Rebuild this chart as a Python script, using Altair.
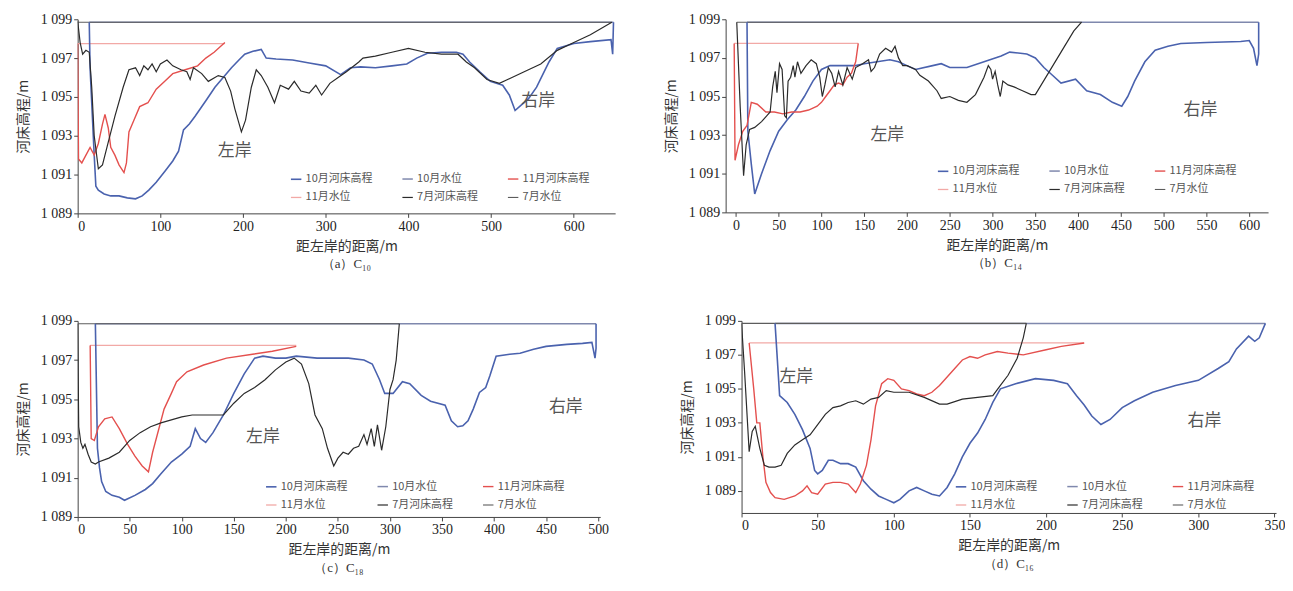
import altair as alt
import pandas as pd

SERIES = ["10月河床高程", "10月水位", "11月河床高程", "11月水位", "7月河床高程", "7月水位"]
COLORS = ["#4a62ae", "#7f88ad", "#e4504e", "#f2a9a6", "#2b2b2b", "#5c5c5c"]
WIDTHS = [1.6, 1.1, 1.3, 1.0, 1.3, 1.1]
Y_TICKS = [1089, 1091, 1093, 1095, 1097, 1099]
CJK = "Noto Sans CJK SC"
NUM = "Liberation Serif"

# ---------------- panel (a) ----------------
A_OCT = [(14, 1098.85), (15, 1096.5), (20, 1092.0), (22, 1090.4), (25, 1090.2), (32, 1090.0), (40, 1089.9),
         (50, 1089.9), (60, 1089.8), (70, 1089.75), (78, 1089.9), (86, 1090.2), (95, 1090.6), (106, 1091.2),
         (115, 1091.7), (122, 1092.2), (128, 1093.3), (135, 1093.6), (142, 1094.0), (155, 1094.8),
         (166, 1095.5), (176, 1096.0), (186, 1096.5), (195, 1096.9), (202, 1097.2), (212, 1097.35),
         (222, 1097.45), (228, 1097.0), (240, 1096.95), (260, 1096.9), (280, 1096.75), (300, 1096.6),
         (318, 1096.15), (330, 1096.5), (342, 1096.55), (360, 1096.5), (380, 1096.6), (398, 1096.7),
         (410, 1097.0), (423, 1097.25), (440, 1097.3), (458, 1097.3), (466, 1097.2), (474, 1096.8),
         (486, 1096.3), (499, 1095.8), (514, 1095.6), (522, 1095.1), (529, 1094.3), (537, 1094.6),
         (545, 1094.9), (555, 1095.5), (563, 1096.2), (570, 1096.8), (580, 1097.5), (600, 1097.75),
         (620, 1097.85), (645, 1097.95), (647, 1097.2), (648, 1098.85)]
A_JUL = [(0, 1098.9), (3, 1097.8), (6, 1097.2), (10, 1097.4), (14, 1097.3), (17, 1095.5), (20, 1093.0),
         (25, 1091.3), (30, 1091.5), (36, 1092.5), (45, 1094.0), (55, 1095.5), (62, 1096.4), (70, 1096.5),
         (75, 1096.1), (80, 1096.6), (85, 1096.4), (90, 1096.7), (95, 1096.3), (100, 1096.7), (108, 1096.9),
         (115, 1096.6), (125, 1096.4), (132, 1096.3), (136, 1095.9), (140, 1096.5), (150, 1096.2),
         (158, 1095.8), (170, 1096.1), (178, 1096.0), (185, 1095.3), (190, 1094.4), (198, 1093.2),
         (203, 1093.8), (210, 1095.5), (216, 1096.4), (222, 1096.1), (230, 1095.5), (238, 1094.7),
         (245, 1095.6), (255, 1095.4), (262, 1095.8), (270, 1095.3), (280, 1095.2), (288, 1095.6),
         (295, 1095.1), (305, 1095.7), (315, 1096.0), (325, 1096.3), (340, 1096.8), (345, 1097.0),
         (360, 1097.1), (380, 1097.3), (400, 1097.5), (420, 1097.3), (440, 1097.2), (460, 1097.2),
         (470, 1096.8), (480, 1096.5), (495, 1095.9), (510, 1095.7), (520, 1095.9), (540, 1096.3),
         (560, 1096.7), (580, 1097.4), (600, 1097.8), (620, 1098.2), (646, 1098.85)]
A_NOV = [(0, 1097.75), (1, 1091.8), (5, 1091.6), (10, 1092.0), (15, 1092.4), (20, 1092.0), (25, 1092.6),
         (30, 1093.6), (33, 1094.1), (37, 1093.4), (40, 1092.4), (45, 1092.0), (50, 1091.5), (56, 1091.1),
         (59, 1091.6), (62, 1093.2), (68, 1093.8), (75, 1094.5), (85, 1094.7), (95, 1095.4), (105, 1095.8),
         (115, 1096.2), (130, 1096.4), (145, 1096.6), (155, 1097.0), (165, 1097.3), (178, 1097.8)]
A_WL_OCT = [(14, 1098.85), (648, 1098.85)]
A_WL_NOV = [(0, 1097.75), (178, 1097.75)]
A_WL_JUL = [(0, 1098.85), (646, 1098.85)]
A_BANKS = [("左岸", 190, 1092.2), ("右岸", 557, 1094.8)]

# ---------------- panel (b) ----------------
B_OCT = [(13, 1098.85), (14, 1093.2), (18, 1091.5), (22, 1089.95), (30, 1091.0), (40, 1092.2), (50, 1093.2),
         (60, 1093.8), (70, 1094.3), (80, 1095.0), (90, 1095.8), (100, 1096.4), (110, 1096.6), (120, 1096.6),
         (140, 1096.6), (150, 1096.7), (165, 1096.8), (180, 1096.9), (190, 1096.8), (200, 1096.6),
         (210, 1096.4), (230, 1096.6), (240, 1096.7), (250, 1096.5), (270, 1096.5), (290, 1096.8),
         (310, 1097.1), (320, 1097.3), (340, 1097.2), (350, 1097.0), (360, 1096.5), (370, 1096.1),
         (380, 1095.7), (397, 1095.9), (410, 1095.3), (426, 1095.1), (440, 1094.7), (451, 1094.5),
         (458, 1095.0), (466, 1095.8), (478, 1096.8), (490, 1097.4), (505, 1097.6), (520, 1097.75),
         (550, 1097.8), (590, 1097.85), (600, 1097.9), (605, 1097.5), (609, 1096.6), (611, 1097.2),
         (611, 1098.85)]
B_JUL = [(1, 1098.85), (5, 1094.5), (9, 1090.9), (12, 1092.5), (16, 1093.3), (22, 1093.4), (30, 1093.7),
         (36, 1094.0), (40, 1094.2), (43, 1095.5), (46, 1096.3), (48, 1095.2), (51, 1096.7), (54, 1096.4),
         (57, 1094.0), (59, 1093.9), (61, 1095.8), (64, 1096.0), (67, 1096.6), (69, 1096.0), (72, 1096.8),
         (76, 1096.2), (82, 1096.6), (88, 1096.9), (94, 1096.7), (98, 1096.0), (101, 1095.0), (104, 1095.6),
         (108, 1096.5), (112, 1096.2), (116, 1095.5), (120, 1096.3), (125, 1095.6), (130, 1096.5),
         (136, 1095.9), (140, 1096.5), (148, 1096.7), (155, 1096.9), (158, 1096.3), (162, 1096.5),
         (168, 1097.2), (175, 1097.5), (182, 1097.3), (186, 1097.6), (190, 1097.0), (195, 1096.6),
         (200, 1096.6), (210, 1096.4), (215, 1096.1), (225, 1095.8), (235, 1095.3), (240, 1094.9),
         (250, 1095.0), (260, 1094.8), (270, 1094.7), (280, 1095.1), (290, 1096.0), (295, 1096.6),
         (298, 1096.4), (300, 1095.9), (303, 1096.3), (306, 1095.6), (309, 1095.0), (312, 1095.8),
         (318, 1095.6), (325, 1095.5), (335, 1095.3), (345, 1095.1), (350, 1095.1), (365, 1096.2),
         (380, 1097.3), (395, 1098.4), (404, 1098.85)]
B_NOV = [(-2, 1097.75), (-1, 1091.7), (3, 1092.5), (8, 1093.2), (13, 1093.5), (18, 1094.7), (25, 1094.6),
         (35, 1094.2), (45, 1094.2), (55, 1094.1), (65, 1094.2), (75, 1094.2), (85, 1094.3), (95, 1094.5),
         (100, 1094.7), (105, 1095.0), (110, 1095.3), (115, 1095.6), (120, 1095.7), (125, 1095.6),
         (130, 1096.0), (135, 1096.2), (140, 1096.8), (143, 1097.75)]
B_WL_OCT = [(13, 1098.85), (611, 1098.85)]
B_WL_NOV = [(-2, 1097.75), (143, 1097.75)]
B_WL_JUL = [(1, 1098.85), (404, 1098.85)]
B_BANKS = [("左岸", 177, 1093.0), ("右岸", 543, 1094.3)]

# ---------------- panel (c) ----------------
C_OCT = [(17, 1098.85), (19, 1092.5), (21, 1091.5), (23, 1090.8), (27, 1090.3), (33, 1090.1), (40, 1090.0),
         (45, 1089.85), (55, 1090.1), (65, 1090.4), (72, 1090.7), (80, 1091.2), (90, 1091.8), (100, 1092.2),
         (108, 1092.6), (113, 1093.5), (118, 1093.0), (123, 1092.8), (130, 1093.3), (140, 1094.2),
         (150, 1095.3), (160, 1096.3), (170, 1097.1), (178, 1097.2), (190, 1097.1), (200, 1097.1),
         (210, 1097.2), (230, 1097.1), (260, 1097.1), (275, 1097.0), (283, 1096.8), (290, 1096.0),
         (295, 1095.3), (303, 1095.3), (312, 1095.9), (319, 1095.8), (330, 1095.2), (339, 1094.9),
         (353, 1094.7), (359, 1093.9), (365, 1093.6), (370, 1093.65), (375, 1093.9), (380, 1094.5),
         (386, 1095.35), (392, 1095.6), (396, 1096.2), (402, 1097.2), (415, 1097.3), (425, 1097.35),
         (438, 1097.55), (450, 1097.7), (470, 1097.8), (485, 1097.85), (494, 1097.9), (497, 1097.1),
         (498, 1097.6), (498, 1098.85)]
C_JUL = [(0, 1098.85), (1, 1093.6), (3, 1092.8), (5, 1092.5), (7, 1092.7), (10, 1092.2), (13, 1091.8),
         (17, 1091.7), (20, 1091.8), (30, 1092.0), (40, 1092.3), (50, 1092.9), (60, 1093.3), (70, 1093.6),
         (80, 1093.8), (90, 1093.95), (100, 1094.1), (110, 1094.2), (125, 1094.2), (140, 1094.2),
         (150, 1094.8), (160, 1095.3), (170, 1095.6), (180, 1096.0), (190, 1096.5), (200, 1096.9),
         (208, 1097.1), (215, 1096.8), (222, 1095.8), (228, 1094.2), (235, 1093.5), (240, 1092.5),
         (246, 1091.6), (250, 1092.0), (255, 1092.3), (260, 1092.2), (265, 1092.5), (270, 1092.6),
         (275, 1093.2), (278, 1092.7), (282, 1093.5), (285, 1092.6), (288, 1093.7), (292, 1092.4),
         (296, 1093.6), (300, 1095.5), (303, 1096.0), (306, 1097.0), (309, 1098.85)]
C_NOV = [(12, 1097.75), (13, 1093.0), (16, 1092.9), (20, 1093.6), (26, 1094.0), (33, 1094.1), (40, 1093.5),
         (48, 1092.7), (55, 1092.1), (62, 1091.6), (68, 1091.3), (72, 1092.3), (78, 1093.5), (83, 1094.5),
         (90, 1095.3), (95, 1095.9), (105, 1096.4), (121, 1096.75), (143, 1097.1), (168, 1097.3),
         (187, 1097.45), (210, 1097.7)]
C_WL_OCT = [(17, 1098.85), (498, 1098.85)]
C_WL_NOV = [(12, 1097.75), (210, 1097.75)]
C_WL_JUL = [(0, 1098.85), (309, 1098.85)]
C_BANKS = [("左岸", 178, 1093.1), ("右岸", 469, 1094.6)]

# ---------------- panel (d) ----------------
D_OCT = [(22, 1098.85), (25, 1094.6), (30, 1094.2), (35, 1093.5), (40, 1092.6), (45, 1091.5), (48, 1090.2),
         (50, 1090.0), (53, 1090.2), (57, 1090.8), (60, 1090.8), (65, 1090.6), (70, 1090.6), (75, 1090.4),
         (80, 1089.6), (85, 1089.1), (90, 1088.7), (95, 1088.5), (100, 1088.3), (104, 1088.5), (110, 1089.0),
         (115, 1089.2), (120, 1089.0), (125, 1088.8), (130, 1088.7), (135, 1089.2), (140, 1090.0),
         (145, 1091.0), (150, 1091.8), (155, 1092.4), (160, 1093.2), (165, 1094.2), (170, 1095.0),
         (180, 1095.3), (193, 1095.6), (205, 1095.5), (214, 1095.3), (220, 1094.6), (225, 1094.05),
         (230, 1093.4), (236, 1092.9), (242, 1093.2), (250, 1093.9), (258, 1094.3), (270, 1094.8),
         (285, 1095.2), (300, 1095.5), (313, 1096.2), (320, 1096.6), (325, 1097.35), (333, 1098.1),
         (337, 1097.8), (340, 1098.0), (344, 1098.85)]
D_JUL = [(0, 1098.85), (2, 1096.0), (5, 1091.3), (7, 1092.5), (9, 1092.8), (12, 1091.5), (15, 1090.5),
         (18, 1090.4), (22, 1090.4), (26, 1090.5), (30, 1091.2), (35, 1091.7), (40, 1092.0), (45, 1092.3),
         (50, 1092.9), (55, 1093.5), (60, 1093.9), (65, 1094.0), (70, 1094.2), (75, 1094.3), (80, 1094.1),
         (85, 1094.4), (90, 1094.5), (95, 1094.9), (100, 1094.8), (110, 1094.8), (120, 1094.5),
         (130, 1094.1), (135, 1094.1), (145, 1094.4), (155, 1094.5), (165, 1094.6), (170, 1095.2),
         (175, 1095.8), (181, 1096.8), (185, 1098.0), (187, 1098.85)]
D_NOV = [(5, 1097.7), (8, 1095.0), (10, 1093.0), (12, 1093.0), (14, 1091.0), (16, 1089.5), (19, 1088.9),
         (22, 1088.6), (28, 1088.5), (35, 1088.7), (40, 1089.0), (43, 1089.3), (46, 1088.9), (50, 1088.8),
         (55, 1089.4), (60, 1089.5), (65, 1089.5), (70, 1089.4), (75, 1088.9), (78, 1089.4), (82, 1090.5),
         (85, 1092.0), (88, 1094.0), (92, 1095.3), (96, 1095.6), (100, 1095.5), (105, 1095.0), (110, 1094.9),
         (115, 1094.7), (120, 1094.6), (125, 1094.8), (130, 1095.2), (135, 1095.7), (140, 1096.2),
         (145, 1096.7), (150, 1096.9), (155, 1096.8), (160, 1097.0), (168, 1097.2), (175, 1097.1),
         (185, 1097.0), (200, 1097.3), (210, 1097.5), (225, 1097.7)]
D_WL_OCT = [(22, 1098.85), (344, 1098.85)]
D_WL_NOV = [(5, 1097.7), (225, 1097.7)]
D_WL_JUL = [(0, 1098.85), (187, 1098.85)]
D_BANKS = [("左岸", 36, 1095.7), ("右岸", 304, 1093.1)]

Y_LABEL = "'1 ' + slice(toString(datum.value), 1)"


def panel(series_map, banks, xdom, xticks, ydom, width, height, title, lx, ly):
    rows = []
    for name in ["10月水位", "7月水位", "11月水位", "10月河床高程", "11月河床高程", "7月河床高程"]:
        for i, (d, e) in enumerate(series_map[name]):
            rows.append({"series": name, "d": d, "e": e, "i": i})
    df = pd.DataFrame(rows)
    bank_df = pd.DataFrame([{"t": t, "d": d, "e": e} for t, d, e in banks])

    x = alt.X("d:Q", scale=alt.Scale(domain=xdom, nice=False, zero=False),
              axis=alt.Axis(values=xticks, tickCount=len(xticks) + 5, title="距左岸的距离/m",
                            format="d", labelOverlap=False))
    y = alt.Y("e:Q", scale=alt.Scale(domain=ydom, nice=False, zero=False),
              axis=alt.Axis(values=Y_TICKS, tickCount=len(Y_TICKS) + 5, labelExpr=Y_LABEL,
                            title="河床高程/m", labelOverlap=False, labelBound=False, labelFlush=False))

    lines = alt.Chart(df).mark_line(clip=True).encode(
        x=x, y=y,
        color=alt.Color("series:N", scale=alt.Scale(domain=SERIES, range=COLORS),
                        legend=alt.Legend(title=None, orient="none", legendX=lx, legendY=ly,
                                          columns=3, direction="horizontal",
                                          labelFont=CJK, labelFontSize=11, labelColor="#555",
                                          symbolType="stroke", symbolSize=110, symbolStrokeWidth=1.6,
                                          columnPadding=26, rowPadding=7, labelOffset=3)),
        strokeWidth=alt.StrokeWidth("series:N", scale=alt.Scale(domain=SERIES, range=WIDTHS), legend=None),
        order=alt.Order("i:Q"),
    )
    txt = alt.Chart(bank_df).mark_text(font=CJK, fontSize=17, color="#555").encode(
        x="d:Q", y="e:Q", text="t:N")
    return alt.layer(lines, txt).properties(
        width=width, height=height,
        title=alt.TitleParams(title, orient="bottom", font=NUM, fontSize=13, fontWeight="normal",
                              color="#333", offset=5),
    ).resolve_scale(color="independent", strokeWidth="independent")


pa = panel({"10月河床高程": A_OCT, "10月水位": A_WL_OCT, "11月河床高程": A_NOV, "11月水位": A_WL_NOV,
            "7月河床高程": A_JUL, "7月水位": A_WL_JUL}, A_BANKS,
           [0, 650], [0, 100, 200, 300, 400, 500, 600], [1089, 1099], 540, 195, "（a）C₁₀", 213, 154)
pb = panel({"10月河床高程": B_OCT, "10月水位": B_WL_OCT, "11月河床高程": B_NOV, "11月水位": B_WL_NOV,
            "7月河床高程": B_JUL, "7月水位": B_WL_JUL}, B_BANKS,
           [-12, 622], list(range(0, 601, 50)), [1089, 1099], 545, 194, "（b）C₁₄", 212, 146)
pc = panel({"10月河床高程": C_OCT, "10月水位": C_WL_OCT, "11月河床高程": C_NOV, "11月水位": C_WL_NOV,
            "7月河床高程": C_JUL, "7月水位": C_WL_JUL}, C_BANKS,
           [0, 502], list(range(0, 501, 50)), [1089, 1099], 525, 197, "（c）C₁₈", 188, 160)
pd_ = panel({"10月河床高程": D_OCT, "10月水位": D_WL_OCT, "11月河床高程": D_NOV, "11月水位": D_WL_NOV,
             "7月河床高程": D_JUL, "7月水位": D_WL_JUL}, D_BANKS,
            [0, 351], list(range(0, 351, 50)), [1087.7, 1099], 537, 193, "（d）C₁₆", 214, 160)

row1 = alt.hconcat(pa, pb, spacing=49).resolve_scale(color="independent", strokeWidth="independent")
row2 = alt.hconcat(pc, pd_, spacing=71).resolve_scale(color="independent", strokeWidth="independent")
chart = alt.vconcat(row1, row2, spacing=43).resolve_scale(
    color="independent", strokeWidth="independent"
).properties(
    padding={"left": 8, "top": 3, "right": 0, "bottom": 0}
).configure_view(stroke=None).configure_axis(
    grid=False, domainColor="#444", tickColor="#444", tickSize=4, labelOverlap=False,
    labelFont=NUM, labelFontSize=14, labelColor="#222", labelPadding=2,
    titleFont=CJK, titleFontSize=14, titleFontWeight="normal", titleColor="#333",
).configure_axisY(titlePadding=10).configure_axisX(titlePadding=6)

chart.save("out.html", embed_options={"renderer": "svg", "actions": False})
